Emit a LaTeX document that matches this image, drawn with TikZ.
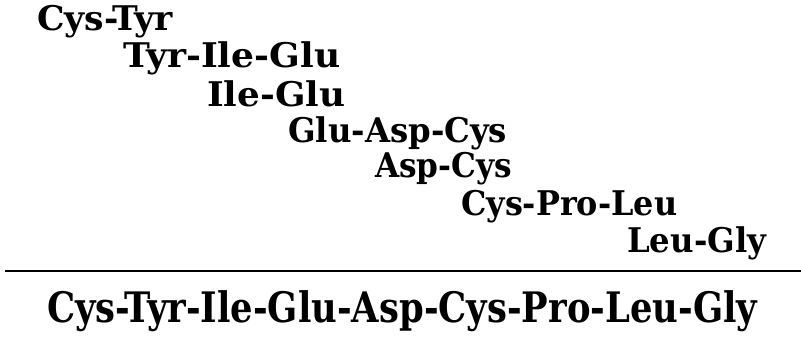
\documentclass[tikz,border=0pt]{standalone}
\usepackage{fontspec}
\setmainfont{DejaVu Serif}
\usepackage{graphicx}
\tikzset{
  pep/.style={anchor=base west, inner sep=0pt, font=\fontsize{34}{38}\selectfont\bfseries},
  full/.style={anchor=base west, inner sep=0pt, font=\fontsize{42}{46}\selectfont\bfseries},
  rule/.style={line width=2.5pt}
}
\newcommand{\fitw}[2]{\resizebox{#1pt}{\height}{#2}}
\begin{document}
\begin{tikzpicture}[x=1pt,y=-1pt]
\useasboundingbox (0,0) rectangle (801,339);
\node[pep] (f1) at (37,31)  {\fitw{136}{Cys-Tyr}};
\node[pep] (f2) at (123,68) {\fitw{217}{Tyr-Ile-Glu}};
\node[pep] (f3) at (207,107) {\fitw{138}{Ile-Glu}};
\node[pep] (f4) at (288,143) {\fitw{219}{Glu-Asp-Cys}};
\node[pep] (f5) at (375,178) {\fitw{137}{Asp-Cys}};
\node[pep] (f6) at (461,216) {\fitw{216}{Cys-Pro-Leu}};
\node[pep] (f7) at (627,253) {\fitw{139}{Leu-Gly}};
\coordinate (l1) at (5,271);
\coordinate (l2) at (801,271);
\draw[rule] (l1) -- (l2);
\node[full] (seq) at (47,323) {\fitw{710}{Cys-Tyr-Ile-Glu-Asp-Cys-Pro-Leu-Gly}};
\end{tikzpicture}
\end{document}
